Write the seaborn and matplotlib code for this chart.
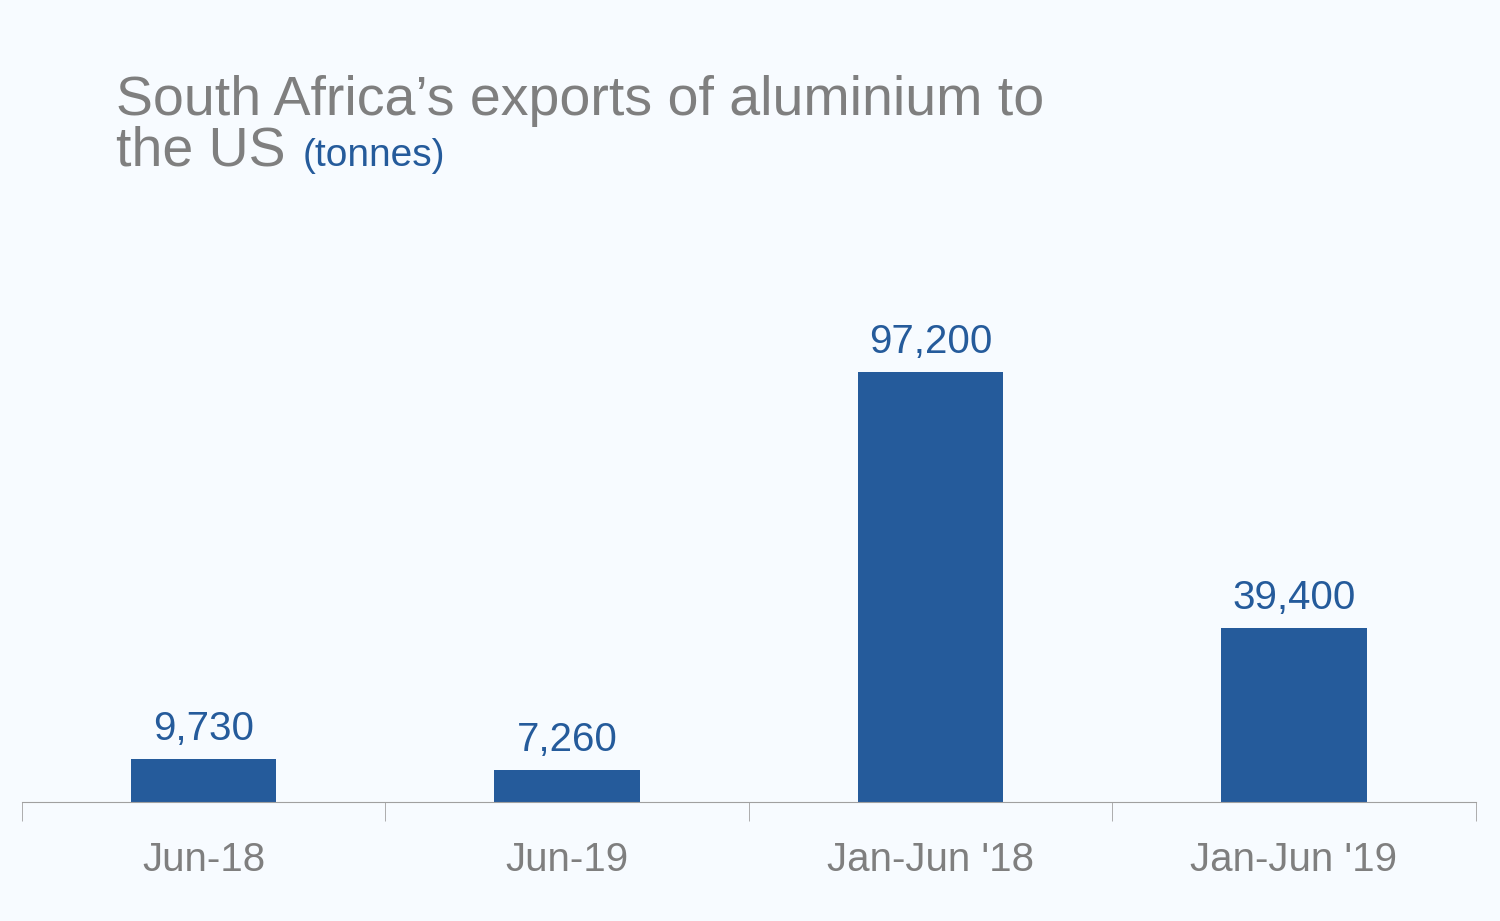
import matplotlib
matplotlib.use("Agg")
import matplotlib.pyplot as plt
import seaborn as sns
import pandas as pd

categories = ["Jun-18", "Jun-19", "Jan-Jun '18", "Jan-Jun '19"]
values = [9730, 7260, 97200, 39400]
labels = ["9,730", "7,260", "97,200", "39,400"]

bg = "#F7FBFF"
blue = "#255B9B"
gray = "#7F7F7F"

df = pd.DataFrame({"cat": categories, "val": values})
fig = plt.figure(figsize=(15, 9.21), dpi=100, facecolor=bg)
ax = fig.add_axes([0.0147, 0.129, 0.969, 0.6])
ax.set_facecolor(bg)
sns.barplot(data=df, x="cat", y="val", color=blue, width=0.4, saturation=1, ax=ax)
ax.set_ylim(0, 125000)
ax.set_xlim(-0.5, 3.5)
for i, (v, l) in enumerate(zip(values, labels)):
    ax.text(i, v + 2500, l, ha="center", va="bottom", fontsize=29, color=blue,
            fontfamily="Liberation Sans")
for s in ["top", "right", "left"]:
    ax.spines[s].set_visible(False)
ax.spines["bottom"].set_color("#A0A0A0")
ax.set_yticks([])
ax.set_xticks([-0.5, 0.5, 1.5, 2.5, 3.5], minor=True)
ax.tick_params(axis="x", which="minor", length=14, color="#A0A0A0")
ax.tick_params(axis="x", which="major", length=0, pad=28, labelsize=29, labelcolor=gray)
for t in ax.get_xticklabels():
    t.set_fontfamily("Liberation Sans")
ax.set_xlabel("")
ax.set_ylabel("")

fig.text(0.077, 0.875, "South Africa’s exports of aluminium to", fontsize=40,
         color=gray, fontfamily="Liberation Sans", va="baseline")
t1 = fig.text(0.077, 0.82, "the US", fontsize=40, color=gray,
              fontfamily="Liberation Sans", va="baseline")
fig.canvas.draw()
bb = t1.get_window_extent()
fig.text(bb.x1 / fig.bbox.width + 0.012, 0.82, "(tonnes)", fontsize=28, color=blue,
         fontfamily="Liberation Sans", va="baseline")
fig.savefig("out.png", dpi=100, facecolor=bg)
